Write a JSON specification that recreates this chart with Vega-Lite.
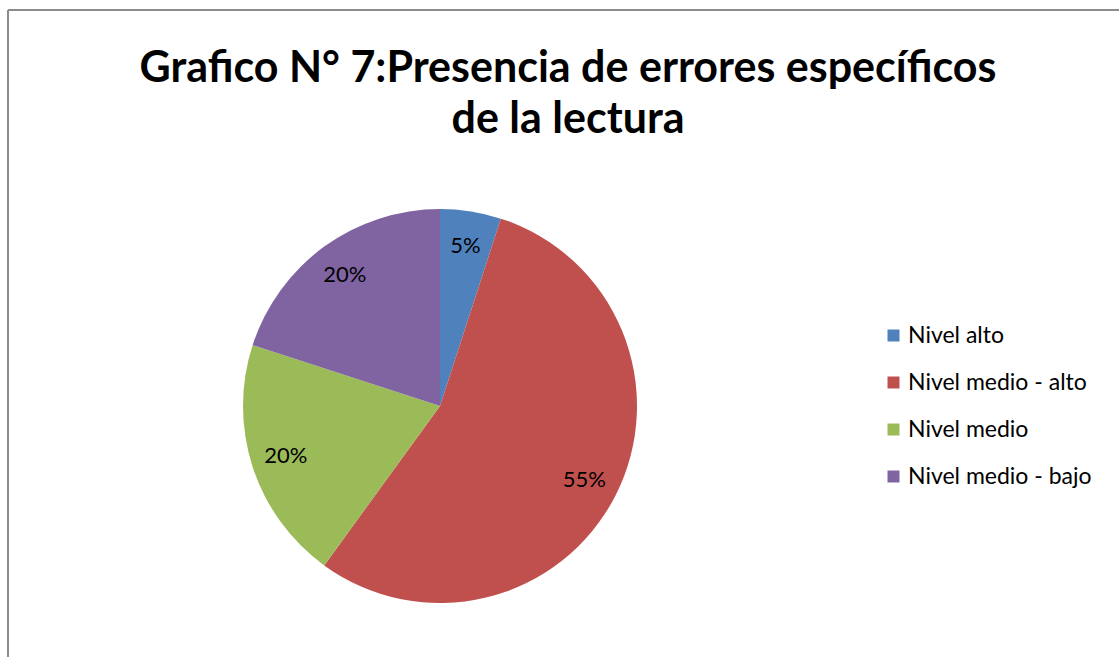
{
  "$schema": "https://vega.github.io/schema/vega-lite/v6.json",
  "autosize": {"type": "none"},
  "padding": {"left": 8, "top": 10, "right": 247, "bottom": -145},
  "width": 864,
  "height": 792,
  "background": "white",
  "config": {"view": {"stroke": null}},
  "title": {
    "text": ["Grafico N° 7:Presencia de errores específicos", "de la lectura"],
    "font": "Lato",
    "fontSize": 43,
    "fontWeight": "bold",
    "color": "black",
    "anchor": "middle",
    "frame": "group",
    "dx": 128,
    "offset": -133,
    "lineHeight": 51
  },
  "data": {
    "values": [
      {"nivel": "Nivel alto", "porcentaje": 5, "etiqueta": "5%", "orden": 1},
      {"nivel": "Nivel medio - alto", "porcentaje": 55, "etiqueta": "55%", "orden": 2},
      {"nivel": "Nivel medio", "porcentaje": 20, "etiqueta": "20%", "orden": 3},
      {"nivel": "Nivel medio - bajo", "porcentaje": 20, "etiqueta": "20%", "orden": 4}
    ]
  },
  "resolve": {"axis": {"y": "independent"}},
  "layer": [
    {
      "mark": {"type": "point", "opacity": 0},
      "encoding": {
        "x": {"datum": 0, "type": "quantitative", "scale": {"domain": [0, 1]},
          "axis": {"orient": "top", "domain": true, "domainColor": "#8c8c8c", "domainWidth": 2, "translate": 0, "ticks": false, "labels": false, "grid": false, "title": null}},
        "y": {"datum": 0, "type": "quantitative", "scale": {"domain": [0, 1]},
          "axis": {"orient": "left", "domain": true, "domainColor": "#8c8c8c", "domainWidth": 2, "translate": 0, "ticks": false, "labels": false, "grid": false, "title": null}}
      }
    },
    {
      "mark": {"type": "point", "opacity": 0},
      "encoding": {
        "y": {"datum": 0, "type": "quantitative", "scale": {"domain": [0, 1]},
          "axis": {"orient": "right", "domain": false, "ticks": true, "values": [1], "tickSize": 260, "tickWidth": 2, "tickColor": "#8c8c8c", "translate": 0, "labels": false, "grid": false, "title": null}}
      }
    },
    {
      "mark": {"type": "arc", "outerRadius": 197},
      "encoding": {
        "theta": {"field": "porcentaje", "type": "quantitative", "stack": true},
        "order": {"field": "orden", "type": "quantitative"},
        "color": {
          "field": "nivel",
          "type": "nominal",
          "sort": ["Nivel alto", "Nivel medio - alto", "Nivel medio", "Nivel medio - bajo"],
          "scale": {
            "domain": ["Nivel alto", "Nivel medio - alto", "Nivel medio", "Nivel medio - bajo"],
            "range": ["#4F81BD", "#C0504D", "#9BBB59", "#8064A2"]
          },
          "legend": {
            "title": null,
            "orient": "none",
            "legendX": 874,
            "legendY": 314,
            "symbolType": "square",
            "symbolSize": 144,
            "symbolStrokeWidth": 0,
            "labelFont": "Lato",
            "labelFontSize": 23,
            "labelColor": "black",
            "labelOffset": 3,
            "labelLimit": 300,
            "rowPadding": 23
          }
        }
      }
    },
    {
      "mark": {"type": "text", "radius": 162, "font": "Lato", "fontSize": 22, "color": "black"},
      "encoding": {
        "theta": {"field": "porcentaje", "type": "quantitative", "stack": true},
        "order": {"field": "orden", "type": "quantitative"},
        "text": {"field": "etiqueta", "type": "nominal"}
      }
    }
  ]
}
